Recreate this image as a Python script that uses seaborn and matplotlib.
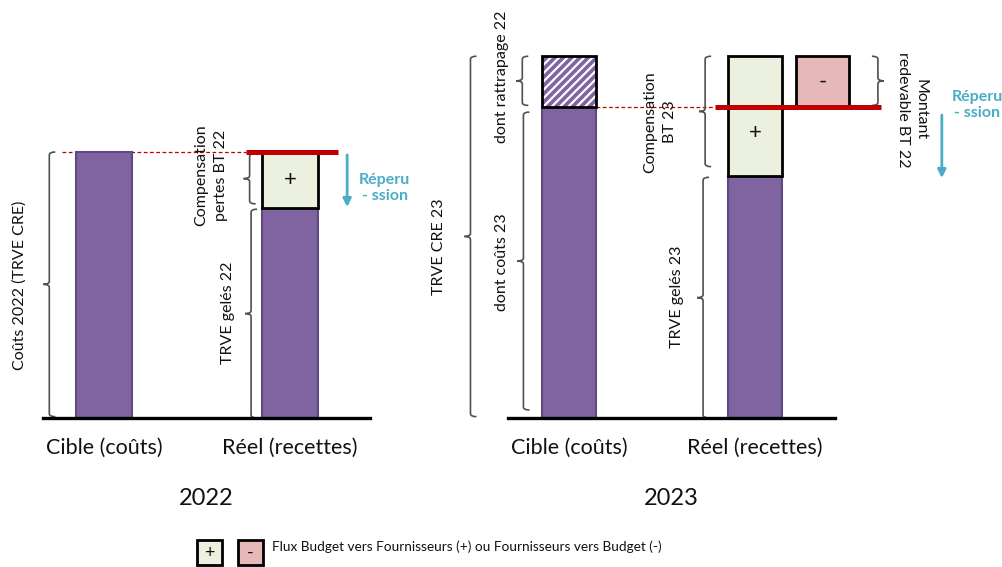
import matplotlib
matplotlib.use("Agg")
import matplotlib.pyplot as plt
from matplotlib.patches import Rectangle, PathPatch
from matplotlib.path import Path
import seaborn as sns
import pandas as pd

# ---------------- data ----------------
categories = ["Cible (coûts)", "Réel (recettes)"]
years = ["2022", "2023"]
# 2022
couts_2022 = 100
trve_geles_22 = 79
compensation_pertes_bt22 = 21
# 2023
couts_23 = 117
rattrapage_22 = 19
trve_geles_23 = 91
compensation_bt23 = 45
montant_redevable_bt22 = 19

base_2022 = [couts_2022, trve_geles_22]
base_2023 = [couts_23, trve_geles_23]
legend_text = "Flux Budget vers Fournisseurs (+) ou Fournisseurs vers Budget (-)"
reperc_text = "Réperu\n- ssion"

# ---------------- style ----------------
PURPLE = "#8064A2"
PURPLE_EDGE = "#5F4A80"
GREEN = "#EBF1DE"
PINK = "#E6B9B8"
RED = "#C00000"
TEAL = "#4BACC6"
BRACE = "#505050"
INK = "#111111"

sns.set_style("white")
plt.rcParams["font.family"] = ["Lato", "DejaVu Sans"]
plt.rcParams["hatch.linewidth"] = 1.6

W, H = 1003, 567
fig = plt.figure(figsize=(W / 100, H / 100), dpi=100)
ax_h = 372.4 / H
axL = fig.add_axes([43 / W, 149 / H, 327 / W, ax_h])
axR = fig.add_axes([508 / W, 149 / H, 327 / W, ax_h])
XLIM = (-0.33, 1.43)
YLIM = (0, 140)


def style(ax, year):
    ax.set_xlim(*XLIM)
    ax.set_ylim(*YLIM)
    ax.set_facecolor("none")
    for s in ["left", "right", "top"]:
        ax.spines[s].set_visible(False)
    ax.spines["bottom"].set_linewidth(2.4)
    ax.spines["bottom"].set_color("black")
    ax.spines["bottom"].set_zorder(6)
    ax.set_yticks([])
    ax.set_ylabel("")
    ax.tick_params(axis="x", length=0, pad=14, labelsize=15.5, labelcolor=INK)
    ax.set_xlabel(year, fontsize=17, labelpad=22, color=INK)


def brace(ax, x, y0, y1, side=1, hook=6, tick=6, curl=3):
    sx = (XLIM[1] - XLIM[0]) / (ax.get_position().width * W)
    sy = (YLIM[1] - YLIM[0]) / (ax.get_position().height * H)
    h = hook * sx * side
    t = tick * sx * side
    c = curl * sy
    ym = (y0 + y1) / 2
    verts = [(x + h, y1), (x, y1), (x, y1 - c), (x, ym + c), (x, ym), (x - t, ym),
             (x, ym), (x, ym - c), (x, y0 + c), (x, y0), (x + h, y0)]
    codes = [Path.MOVETO, Path.CURVE3, Path.CURVE3, Path.LINETO, Path.CURVE3, Path.CURVE3,
             Path.CURVE3, Path.CURVE3, Path.LINETO, Path.CURVE3, Path.CURVE3]
    ax.add_patch(PathPatch(Path(verts, codes), fill=False, edgecolor=BRACE, lw=1.2,
                           clip_on=False, zorder=2))


def vlabel(ax, x, y, s, rot=90, ls=1.6):
    ax.text(x, y, s, rotation=rot, ha="center", va="center", multialignment="center",
            fontsize=11.5, linespacing=ls, color=INK)


def flux_box(ax, x, bottom, height, width, face, sign, sign_y=None):
    ax.bar(x, height, bottom=bottom, width=width, color=face, edgecolor="black",
           linewidth=2, zorder=3, clip_on=False)
    ax.text(x, bottom + height / 2 if sign_y is None else sign_y, sign,
            ha="center", va="center", fontsize=16, zorder=5, color=INK)


def arrow(ax, x, y_start, y_end):
    ax.annotate("", xy=(x, y_end), xytext=(x, y_start), annotation_clip=False,
                arrowprops=dict(arrowstyle="-|>", color=TEAL, lw=2, mutation_scale=12,
                                shrinkA=0, shrinkB=0))


# ---------------- 2022 ----------------
df22 = pd.DataFrame({"cat": categories, "val": base_2022})
sns.barplot(data=df22, x="cat", y="val", ax=axL, color=PURPLE, saturation=1, width=0.30,
            edgecolor=PURPLE_EDGE, linewidth=1.5, zorder=2)
style(axL, years[0])
flux_box(axL, 1, trve_geles_22, compensation_pertes_bt22, 0.30, GREEN, "+")
axL.hlines(couts_2022, -0.226, 0.76, colors=RED, lw=0.9, linestyles=(0, (3, 2)), zorder=1)
axL.hlines(couts_2022, 0.76, 1.26, colors=RED, lw=3.6, zorder=7, clip_on=False)

brace(axL, -0.296, 0.5, couts_2022)
brace(axL, 0.782, trve_geles_22 + 1.5, trve_geles_22 + compensation_pertes_bt22 - 0.5)
brace(axL, 0.79, 0, trve_geles_22 - 0.5)
vlabel(axL, -0.458, couts_2022 / 2, "Coûts 2022 (TRVE CRE)")
vlabel(axL, 0.575, 91.4, "Compensation\npertes BT 22")
vlabel(axL, 0.664, trve_geles_22 / 2, "TRVE gelés 22")
arrow(axL, 1.307, 98.9, 79.3)
axL.text(1.509, 86.5, reperc_text, ha="center", va="center", multialignment="center",
         fontsize=11.5, fontweight="bold", color=TEAL, linespacing=1.25)

# ---------------- 2023 ----------------
df23 = pd.DataFrame({"cat": categories, "val": base_2023})
sns.barplot(data=df23, x="cat", y="val", ax=axR, color=PURPLE, saturation=1, width=0.29,
            edgecolor=PURPLE_EDGE, linewidth=1.5, zorder=2)
style(axR, years[1])
# hatched catch-up part
axR.bar(0, rattrapage_22, bottom=couts_23, width=0.29, color=PURPLE, edgecolor="white",
        hatch="////", linewidth=0, zorder=3, clip_on=False)
axR.bar(0, rattrapage_22, bottom=couts_23, width=0.29, fill=False, edgecolor="black",
        linewidth=2, zorder=4, clip_on=False)
flux_box(axR, 1, trve_geles_23, compensation_bt23, 0.29, GREEN, "+",
         sign_y=(trve_geles_23 + couts_23) / 2 + 3)
flux_box(axR, 1.363, couts_23, montant_redevable_bt22, 0.285, PINK, "-")
axR.hlines(couts_23, 0.145, 0.785, colors=RED, lw=0.9, linestyles=(0, (3, 2)), zorder=1)
axR.hlines(couts_23, 0.785, 1.677, colors=RED, lw=3.6, zorder=7, clip_on=False)

top23 = couts_23 + rattrapage_22
brace(axR, -0.532, 0.5, top23)
brace(axR, -0.253, couts_23 + 0.5, top23)
brace(axR, -0.247, 3, couts_23 - 2)
brace(axR, 0.731, trve_geles_23 + 3.5, trve_geles_23 + compensation_bt23)
brace(axR, 0.72, 0, trve_geles_23 - 0.5)
brace(axR, 1.661, couts_23 + 0.5, couts_23 + montant_redevable_bt22, side=-1)
vlabel(axR, -0.704, 64.3, "TRVE CRE 23")
vlabel(axR, -0.36, 128.2, "dont rattrapage 22")
vlabel(axR, -0.36, 58.6, "dont coûts 23")
vlabel(axR, 0.489, 111.3, "Compensation\nBT 23", ls=1.5)
vlabel(axR, 0.58, trve_geles_23 / 2, "TRVE gelés 23")
vlabel(axR, 1.844, 115.8, "Montant\nredevable BT 22", rot=270, ls=1.35)
arrow(axR, 2.005, 113.9, 90.2)
axR.text(2.194, 117.7, reperc_text, ha="center", va="center", multialignment="center",
         fontsize=11.5, fontweight="bold", color=TEAL, linespacing=1.25)

# ---------------- legend ----------------
for x0, face, sign in [(197, GREEN, "+"), (238, PINK, "-")]:
    fig.add_artist(Rectangle((x0 / W, 2 / H), 25 / W, 25 / H, transform=fig.transFigure,
                             facecolor=face, edgecolor="black", lw=2))
    fig.text((x0 + 12.5) / W, 14.5 / H, sign, ha="center", va="center", fontsize=13, color=INK)
fig.text(272 / W, 20 / H, legend_text, ha="left", va="center", fontsize=9.8, color=INK)

fig.savefig("out.png", dpi=100)
